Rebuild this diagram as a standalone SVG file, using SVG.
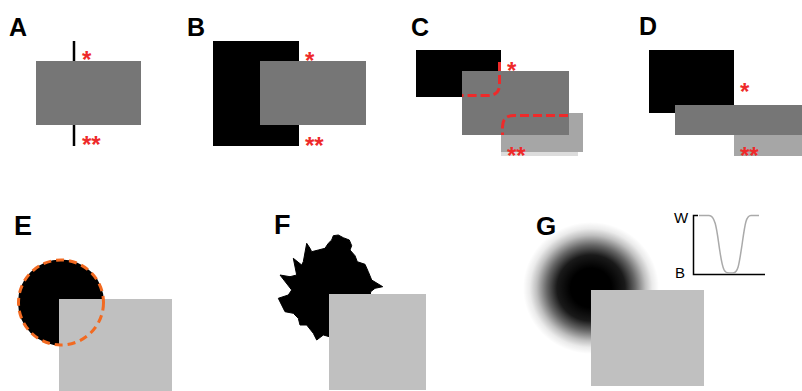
<svg xmlns="http://www.w3.org/2000/svg" width="802" height="391" viewBox="0 0 802 391">
<style>
.lbl{font-family:"Liberation Sans",Arial,sans-serif;font-weight:bold;fill:#000}
.ast{font-family:"Liberation Sans",Arial,sans-serif;font-weight:bold;fill:#ee2a2a;font-size:24px}
.mid{fill:#767676}
.lt{fill:#a6a6a6}
.sq{fill:#c0c0c0}
.blk{fill:#000}
.dash{fill:none;stroke:#ee2a2a;stroke-width:3;stroke-dasharray:9 4}
</style>
<defs>
<radialGradient id="blur" cx="0.5" cy="0.5" r="0.5">
<stop offset="0" stop-color="#000" stop-opacity="1"/>
<stop offset="0.3" stop-color="#000" stop-opacity="1"/>
<stop offset="0.5" stop-color="#000" stop-opacity="0.9"/>
<stop offset="0.65" stop-color="#000" stop-opacity="0.6"/>
<stop offset="0.8" stop-color="#000" stop-opacity="0.25"/>
<stop offset="0.9" stop-color="#000" stop-opacity="0.08"/>
<stop offset="1" stop-color="#000" stop-opacity="0"/>
</radialGradient>
</defs>
<rect width="802" height="391" fill="#fff"/>

<g id="panelA">
<text class="lbl" x="9" y="36" font-size="25">A</text>
<line x1="74" y1="41" x2="74" y2="62" stroke="#000" stroke-width="2.5"/>
<line x1="74" y1="125" x2="74" y2="146" stroke="#000" stroke-width="2.5"/>
<rect class="mid" x="36" y="61" width="105" height="64"/>
<text class="ast" x="82" y="68">*</text>
<text class="ast" x="82" y="153">**</text>
</g>

<g id="panelB">
<text class="lbl" x="187" y="36" font-size="25">B</text>
<rect class="blk" x="213" y="41" width="86" height="105"/>
<rect class="mid" x="260" y="61" width="106" height="64"/>
<text class="ast" x="305" y="69">*</text>
<text class="ast" x="305" y="154">**</text>
</g>

<g id="panelC">
<text class="lbl" x="411" y="36" font-size="25">C</text>
<rect class="blk" x="416" y="50" width="85" height="47"/>
<rect x="501" y="151" width="77" height="5" fill="#dcdcdc"/>
<rect class="lt" x="501" y="113" width="82" height="39"/>
<rect class="mid" x="462" y="71" width="107" height="64"/>
<text class="ast" x="507" y="79">*</text>
<text class="ast" x="507" y="164">**</text>
</g>

<g id="panelD">
<text class="lbl" x="639" y="35" font-size="25">D</text>
<rect class="blk" x="649" y="50" width="85" height="63"/>
<rect class="lt" x="734" y="135" width="68" height="21"/>
<rect class="mid" x="675" y="105" width="127" height="30"/>
<text class="ast" x="740" y="100">*</text>
<text class="ast" x="740" y="164">**</text>
</g>

<g id="panelE">
<text class="lbl" x="14" y="235" font-size="27">E</text>
<circle class="blk" cx="61" cy="302.5" r="43"/>
<rect class="sq" x="59" y="299" width="113" height="92"/>
<circle cx="61" cy="302.5" r="42.5" fill="none" stroke="#f26a21" stroke-width="3" stroke-dasharray="8 5"/>
</g>

<g id="panelF">
<text class="lbl" x="274" y="234" font-size="27">F</text>
<polygon class="blk" stroke="#000" stroke-width="1" stroke-linejoin="round" points="331.7,240 333.3,235.7 338.3,235 343.3,237.7 349.3,240 351.7,245.7 350,250 355,255.7 357.3,261.7 365,264.3 368.3,271.7 371.7,280 382.7,286.7 375,288.3 370.7,291.7 370,296.7 329.3,296.7 329.3,336.7 323.3,335 316.7,340 313.3,333.3 306.7,325 300,325 298.3,318.3 293.3,313.3 285,311.7 278.3,298.3 288.3,295 291.7,290 280,275 290,276.7 296.7,275 293.3,258.3 301.7,265 303.3,261.7 306.7,243.3 310,248.3 311.7,251.7 318.3,250 325,248.3 328.3,243.3"/>
<rect class="sq" x="329" y="294" width="97" height="96"/>
</g>

<g id="panelG">
<text class="lbl" x="536" y="235" font-size="26">G</text>
<ellipse cx="591" cy="288" rx="68" ry="66" fill="url(#blur)"/>
<rect class="sq" x="591" y="290" width="113" height="96"/>
<text x="674" y="223" font-family="'Liberation Sans',Arial,sans-serif" font-size="15" fill="#000">W</text>
<text x="675" y="278" font-family="'Liberation Sans',Arial,sans-serif" font-size="15" fill="#000">B</text>
<path d="M698,215.5 H693.5 V274.5 H765" fill="none" stroke="#000" stroke-width="1.5"/>
<path d="M699,215.5 H709 C716,215.5 717,233 720,252 C723,272 725,273 729,273 H733 C738,273 739,265 742,245 C745,224 746,215.5 751,215.5 H759" fill="none" stroke="#aaa" stroke-width="1.5"/>
</g>

<g id="connectors">
<path class="dash" d="M499.5,62 V84 Q499.5,95.5 488,95.5 H462"/>
<path class="dash" d="M568,115.5 H514 Q502.5,115.5 502.5,127 V135"/>
</g>
</svg>
